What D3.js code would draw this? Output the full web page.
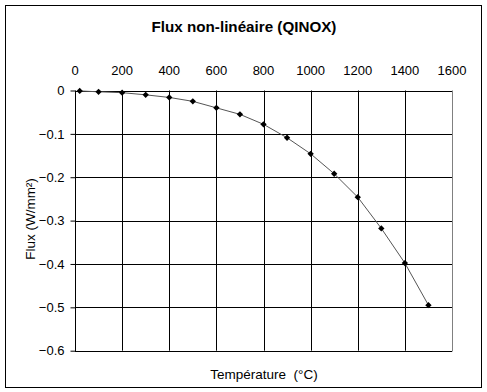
<!DOCTYPE html>
<html><head><meta charset="utf-8">
<script src="https://cdn.jsdelivr.net/npm/d3@7"></script>
<style>body{margin:0;background:#fff}svg{display:block;font-family:"Liberation Sans",Arial,sans-serif}</style>
</head><body><svg id="c" width="487" height="392"></svg>
<script>
const temperatures = [20,100,200,300,400,500,600,700,800,900,1000,1100,1200,1300,1400,1500];
const fluxValues = [-0.001,-0.003,-0.005,-0.01,-0.016,-0.025,-0.04,-0.055,-0.078,-0.109,-0.146,-0.192,-0.246,-0.318,-0.398,-0.495];
const xTicks = [0,200,400,600,800,1000,1200,1400,1600];
const yTicks = [0,-0.1,-0.2,-0.3,-0.4,-0.5,-0.6];
const title = "Flux non-linéaire (QINOX)";
const xLabel = "Température  (°C)";
const yLabel = "Flux (W/mm²)";

const svg = d3.select("#c");
const L=75, R=452, T=90.5, B=350.7;
const x = d3.scaleLinear().domain([0,1600]).range([L,R]);
const y = d3.scaleLinear().domain([-0.6,0]).range([B,T]);

svg.append("rect").attr("x",5.5).attr("y",5.5).attr("width",476).attr("height",382)
  .attr("fill","#fff").attr("stroke","#000");

svg.append("text").attr("x",244).attr("y",32).attr("text-anchor","middle").attr("fill","#000")
  .attr("font-size",15.2).attr("font-weight","bold").text(title);

// grid
const g = svg.append("g");
g.selectAll(".vg").data(xTicks.filter(d=>d>0&&d<1600)).join("line")
  .attr("x1",d=>Math.round(x(d))+0.5).attr("x2",d=>Math.round(x(d))+0.5)
  .attr("y1",T).attr("y2",B).attr("stroke","#000");
g.selectAll(".hg").data(yTicks).join("line")
  .attr("x1",L).attr("x2",R).attr("y1",d=>Math.round(y(d))+0.5).attr("y2",d=>Math.round(y(d))+0.5)
  .attr("stroke","#000");
// right border gray
g.append("line").attr("x1",Math.round(R)+0.5).attr("x2",Math.round(R)+0.5).attr("y1",T).attr("y2",Math.round(B)+0.5).attr("stroke","#808080");

// y axis
const ya = svg.append("g").attr("transform",`translate(${Math.round(L)+0.5},0)`)
  .call(d3.axisLeft(y).tickValues(yTicks).tickSize(5).tickPadding(6).tickFormat(d=>d===0?"0":d3.format(".1f")(d)));
ya.select(".domain").attr("stroke","#000").attr("d",`M0,${T}V${Math.round(B)+0.5}`);
ya.selectAll(".tick line").attr("stroke","#000");
ya.selectAll("text").attr("font-size",13).attr("font-family","Liberation Sans, Arial, sans-serif").attr("fill","#000");

// x axis labels on top
svg.append("g").selectAll("text").data(xTicks).join("text")
  .attr("x",d=>x(d)).attr("y",75).attr("text-anchor","middle").attr("fill","#000").attr("font-size",13).text(d=>d);

// line
const pts = temperatures.map((t,i)=>[t,fluxValues[i]]);
svg.append("path").datum(pts)
  .attr("fill","none").attr("stroke","#555").attr("stroke-width",1)
  .attr("d",d3.line().x(d=>x(d[0])).y(d=>y(d[1])));
svg.append("g").selectAll("path").data(pts).join("path")
  .attr("transform",d=>`translate(${x(d[0])},${y(d[1])}) rotate(45)`)
  .attr("d",d3.symbol(d3.symbolSquare, 20)).attr("fill","#000");

svg.append("text").attr("x",264).attr("y",379).attr("text-anchor","middle").attr("fill","#000").attr("font-size",13.5)
  .style("white-space","pre").text(xLabel);
svg.append("text").attr("transform","translate(35,219) rotate(-90)").attr("text-anchor","middle").attr("fill","#000").attr("font-size",13.5).text(yLabel);
</script></body></html>
